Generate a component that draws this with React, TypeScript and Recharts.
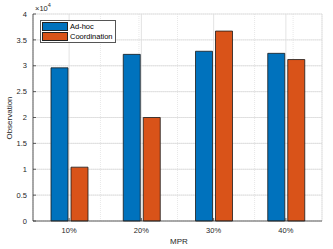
import React from 'react';
import { BarChart, Bar, XAxis, YAxis, CartesianGrid } from 'recharts';

const categories = ['10%', '20%', '30%', '40%'];
const adHoc = [29600, 32200, 32800, 32400];
const coordination = [10400, 20000, 36700, 31200];
const yTicks = [0, 5000, 10000, 15000, 20000, 25000, 30000, 35000, 40000];
const yMinorTicks = Array.from({ length: 41 }, (_, i) => i * 1000);
const xMinorTicks = Array.from({ length: 21 }, (_, i) => 0.5 + i * 0.2);

const data = categories.map((c, i) => ({ mpr: c, adhoc: adHoc[i], coord: coordination[i] }));

const BLUE = '#0072BD';
const ORANGE = '#D95319';
const AX = '#262626';
const FONT = 'Liberation Sans, Arial, sans-serif';

const LegendBox = () => (
  <div style={{ position: 'absolute', left: 40, top: 20, width: 72, height: 19, border: '1px solid #555', background: '#fff', fontFamily: FONT, fontSize: 7.5, lineHeight: '9px', color: '#000', padding: '1px 1px', boxSizing: 'content-box' }}>
    {[['Ad-hoc', BLUE], ['Coordination', ORANGE]].map(([n, c]) => (
      <div key={n} style={{ display: 'flex', alignItems: 'center', height: 9.5 }}>
        <div style={{ width: 24, height: 7, background: c, border: '0.8px solid #222', marginRight: 2, flexShrink: 0 }} />
        <span>{n}</span>
      </div>
    ))}
  </div>
);

export default function App() {
  return (
    <div style={{ position: 'absolute', left: 0, top: 0, width: 333, height: 249, background: '#fff' }}>
      <BarChart width={333} height={249} data={data} margin={{ top: 14, right: 11, bottom: 0, left: 0 }}
        barSize={17} barGap={3} barCategoryGap="24%">
        <XAxis xAxisId="minor" type="number" domain={[0.5, 4.5]} ticks={xMinorTicks} hide height={0} allowDataOverflow />
        <YAxis yAxisId="minor" type="number" domain={[0, 40000]} ticks={yMinorTicks} hide width={0} allowDataOverflow />
        <CartesianGrid xAxisId="minor" yAxisId="minor" stroke="#e2e2e2" strokeDasharray="1 1" strokeWidth={0.8} />
        <CartesianGrid stroke="#dcdcdc" strokeWidth={0.8} />
        <XAxis dataKey="mpr" stroke={AX} strokeWidth={0.7} tick={{ fill: AX, fontSize: 7.5, fontFamily: FONT }}
          tickSize={-3} tickMargin={10} height={28} interval={0} />
        <XAxis xAxisId="top" dataKey="mpr" orientation="top" stroke={AX} strokeWidth={0.7} tick={false}
          tickSize={-3} height={0} />
        <YAxis domain={[0, 40000]} ticks={yTicks} stroke={AX} strokeWidth={0.7}
          tick={{ fill: AX, fontSize: 7.5, fontFamily: FONT }} tickFormatter={(v: number) => String(v / 10000)}
          tickSize={-3} tickMargin={9} width={33} />
        <YAxis yAxisId="right" orientation="right" domain={[0, 40000]} ticks={yTicks} stroke={AX} strokeWidth={0.7}
          tick={false} tickSize={-3} width={0} />
        <Bar dataKey="adhoc" name="Ad-hoc" fill={BLUE} stroke="#1a1a1a" strokeWidth={0.8} isAnimationActive={false} />
        <Bar dataKey="coord" name="Coordination" fill={ORANGE} stroke="#1a1a1a" strokeWidth={0.8} isAnimationActive={false} />
      </BarChart>
      <LegendBox />
      <div style={{ position: 'absolute', left: 35, top: 1, fontFamily: FONT, fontSize: 7.5, lineHeight: '9px', color: AX }}>
        ×10<sup style={{ fontSize: 5.5 }}>4</sup>
      </div>
      <div style={{ position: 'absolute', left: 170, top: 237, fontFamily: FONT, fontSize: 8, lineHeight: '10px', color: AX }}>MPR</div>
      <div style={{ position: 'absolute', left: 10, top: 118, fontFamily: FONT, fontSize: 8, lineHeight: '10px', color: AX,
        transform: 'translate(-50%, -50%) rotate(-90deg)', whiteSpace: 'nowrap' }}>Observation</div>
    </div>
  );
}
